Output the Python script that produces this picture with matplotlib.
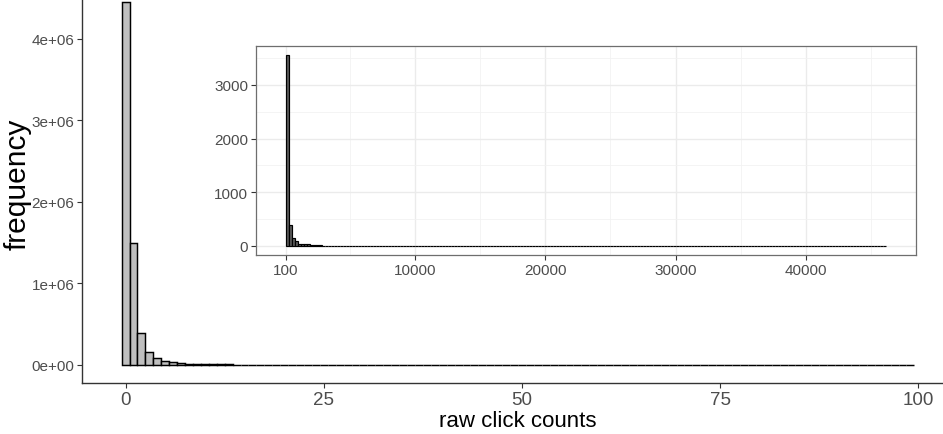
import matplotlib
matplotlib.use("Agg")
import matplotlib.pyplot as plt
from matplotlib.ticker import FuncFormatter, FixedLocator
import numpy as np

plt.rcParams['font.family'] = ['Liberation Sans', 'DejaVu Sans']

# ---- main histogram: counts for raw click counts 0..99 (bin width 1) ----
main_counts = [
    4450000, 1497000, 393000, 160000, 82000, 49000, 33000, 22000, 16000, 12000,
    9000, 7200, 5800, 4700, 3900, 3200, 2700, 2300, 2000, 1750,
    1550, 1380, 1230, 1100, 990, 900, 820, 750, 690, 640,
    590, 550, 510, 480, 450, 420, 395, 370, 350, 330,
    310, 295, 280, 265, 250, 240, 228, 217, 207, 198,
    190, 182, 175, 168, 161, 155, 149, 144, 139, 134,
    129, 125, 121, 117, 113, 110, 107, 104, 101, 98,
    95, 92, 90, 88, 86, 84, 82, 80, 78, 76,
    74, 72, 70, 69, 67, 66, 64, 63, 61, 60,
    59, 58, 57, 56, 55, 54, 53, 52, 51, 50,
]
main_x_ticks = [0, 25, 50, 75, 100]
main_y_ticks = [0, 1e6, 2e6, 3e6, 4e6]

# ---- inset histogram: counts >= 100, bins of width 230 starting at 100 ----
inset_start = 100
inset_binwidth = 230
inset_counts = [
    3555, 382, 148, 85, 42, 38, 40, 30, 20, 12,
    8, 6, 5, 4, 4, 3, 3, 3, 2, 2,
    2, 2, 2, 2, 2, 2, 2, 2, 2, 2,
    2, 2, 2, 2, 3, 2, 2, 2, 2, 2,
    1, 2, 1, 1, 2, 1, 1, 1, 2, 1,
    1, 1, 1, 1, 1, 1, 1, 1, 1, 1,
    2, 1, 1, 1, 1, 1, 1, 1, 1, 1,
    1, 1, 1, 0, 1, 1, 1, 0, 1, 1,
    1, 1, 1, 1, 0, 1, 1, 0, 1, 1,
    1, 0, 1, 1, 0, 1, 0, 1, 1, 0,
    1, 1, 0, 1, 0, 1, 1, 0, 1, 0,
    1, 1, 1, 0, 1, 0, 1, 0, 1, 1,
    0, 1, 0, 1, 0, 1, 0, 1, 1, 0,
    1, 0, 1, 0, 1, 0, 0, 1, 0, 1,
    1, 0, 1, 0, 1, 0, 1, 0, 0, 1,
    0, 1, 0, 1, 0, 1, 0, 0, 1, 0,
    1, 0, 1, 0, 0, 1, 0, 1, 0, 0,
    1, 0, 1, 0, 1, 0, 0, 1, 0, 1,
    0, 0, 1, 0, 1, 0, 0, 1, 0, 0,
    1, 0, 1, 0, 0, 1, 0, 0, 1, 1,
]
inset_x_ticks = [100, 10000, 20000, 30000, 40000]
inset_x_minor = [5050, 15000, 25000, 35000, 45000]
inset_y_ticks = [0, 1000, 2000, 3000]
inset_y_minor = [500, 1500, 2500, 3500]

W, H = 943, 435
fig = plt.figure(figsize=(W / 100, H / 100), dpi=100)

# main axes (extends beyond the figure on top and right, like the cropped reference)
ml, mr, mt, mb = 82, 954, -15, 384
ax = fig.add_axes([ml / W, (H - mb) / H, (mr - ml) / W, (mb - mt) / H])
xs = np.arange(len(main_counts))
ax.bar(xs, main_counts, width=1.0, color='#bfbfbf', edgecolor='black', linewidth=1.05, align='center')
ymax = max(main_counts)
ax.set_xlim(-0.5 - 0.05 * 100, 99.5 + 0.05 * 100)
ax.set_ylim(-0.05 * ymax, 1.05 * ymax)
for s in ['top', 'right']:
    ax.spines[s].set_visible(False)
for s in ['left', 'bottom']:
    ax.spines[s].set_color('#333333')
    ax.spines[s].set_linewidth(1.0)
ax.set_xticks(main_x_ticks)
ax.set_yticks(main_y_ticks)
ax.yaxis.set_major_formatter(FuncFormatter(lambda v, p: f"{v:.0e}"))
ax.tick_params(axis='both', colors='#333333', length=3.5, width=0.8)
ax.tick_params(axis='x', labelsize=13.5, labelcolor='#4d4d4d', pad=2)
ax.tick_params(axis='y', labelsize=11, labelcolor='#4d4d4d', pad=2)
ax.set_xlabel('raw click counts', fontsize=16, labelpad=2)
ax.set_ylabel('frequency', fontsize=21.5, labelpad=0)

# inset axes
il, ir, it, ib = 255.7, 915.7, 46.7, 256.3
axi = fig.add_axes([il / W, (H - ib) / H, (ir - il) / W, (ib - it) / H])
axi.set_facecolor('white')
edges = inset_start + inset_binwidth * np.arange(len(inset_counts))
axi.bar(edges, inset_counts, width=inset_binwidth, align='edge', color='#5a5a5a',
        edgecolor='black', linewidth=0.85, zorder=3)
xmin_d = edges[0]
xmax_d = edges[-1] + inset_binwidth
rng = xmax_d - xmin_d
imax = max(inset_counts)
axi.set_xlim(xmin_d - 0.05 * rng, xmax_d + 0.05 * rng)
axi.set_ylim(-0.05 * imax, 1.05 * imax)
axi.xaxis.set_major_locator(FixedLocator(inset_x_ticks))
axi.xaxis.set_minor_locator(FixedLocator(inset_x_minor))
axi.yaxis.set_major_locator(FixedLocator(inset_y_ticks))
axi.yaxis.set_minor_locator(FixedLocator(inset_y_minor))
axi.grid(which='major', color='#ebebeb', linewidth=1.0, zorder=0)
axi.grid(which='minor', color='#f2f2f2', linewidth=0.6, zorder=0)
axi.set_axisbelow(True)
axi.tick_params(which='minor', length=0)
axi.tick_params(which='major', colors='#333333', length=3.5, width=0.8,
                labelsize=11, labelcolor='#4d4d4d', pad=2)
for s in axi.spines.values():
    s.set_color('#6e6e6e')
    s.set_linewidth(0.9)

fig.savefig('out.png', dpi=100)
